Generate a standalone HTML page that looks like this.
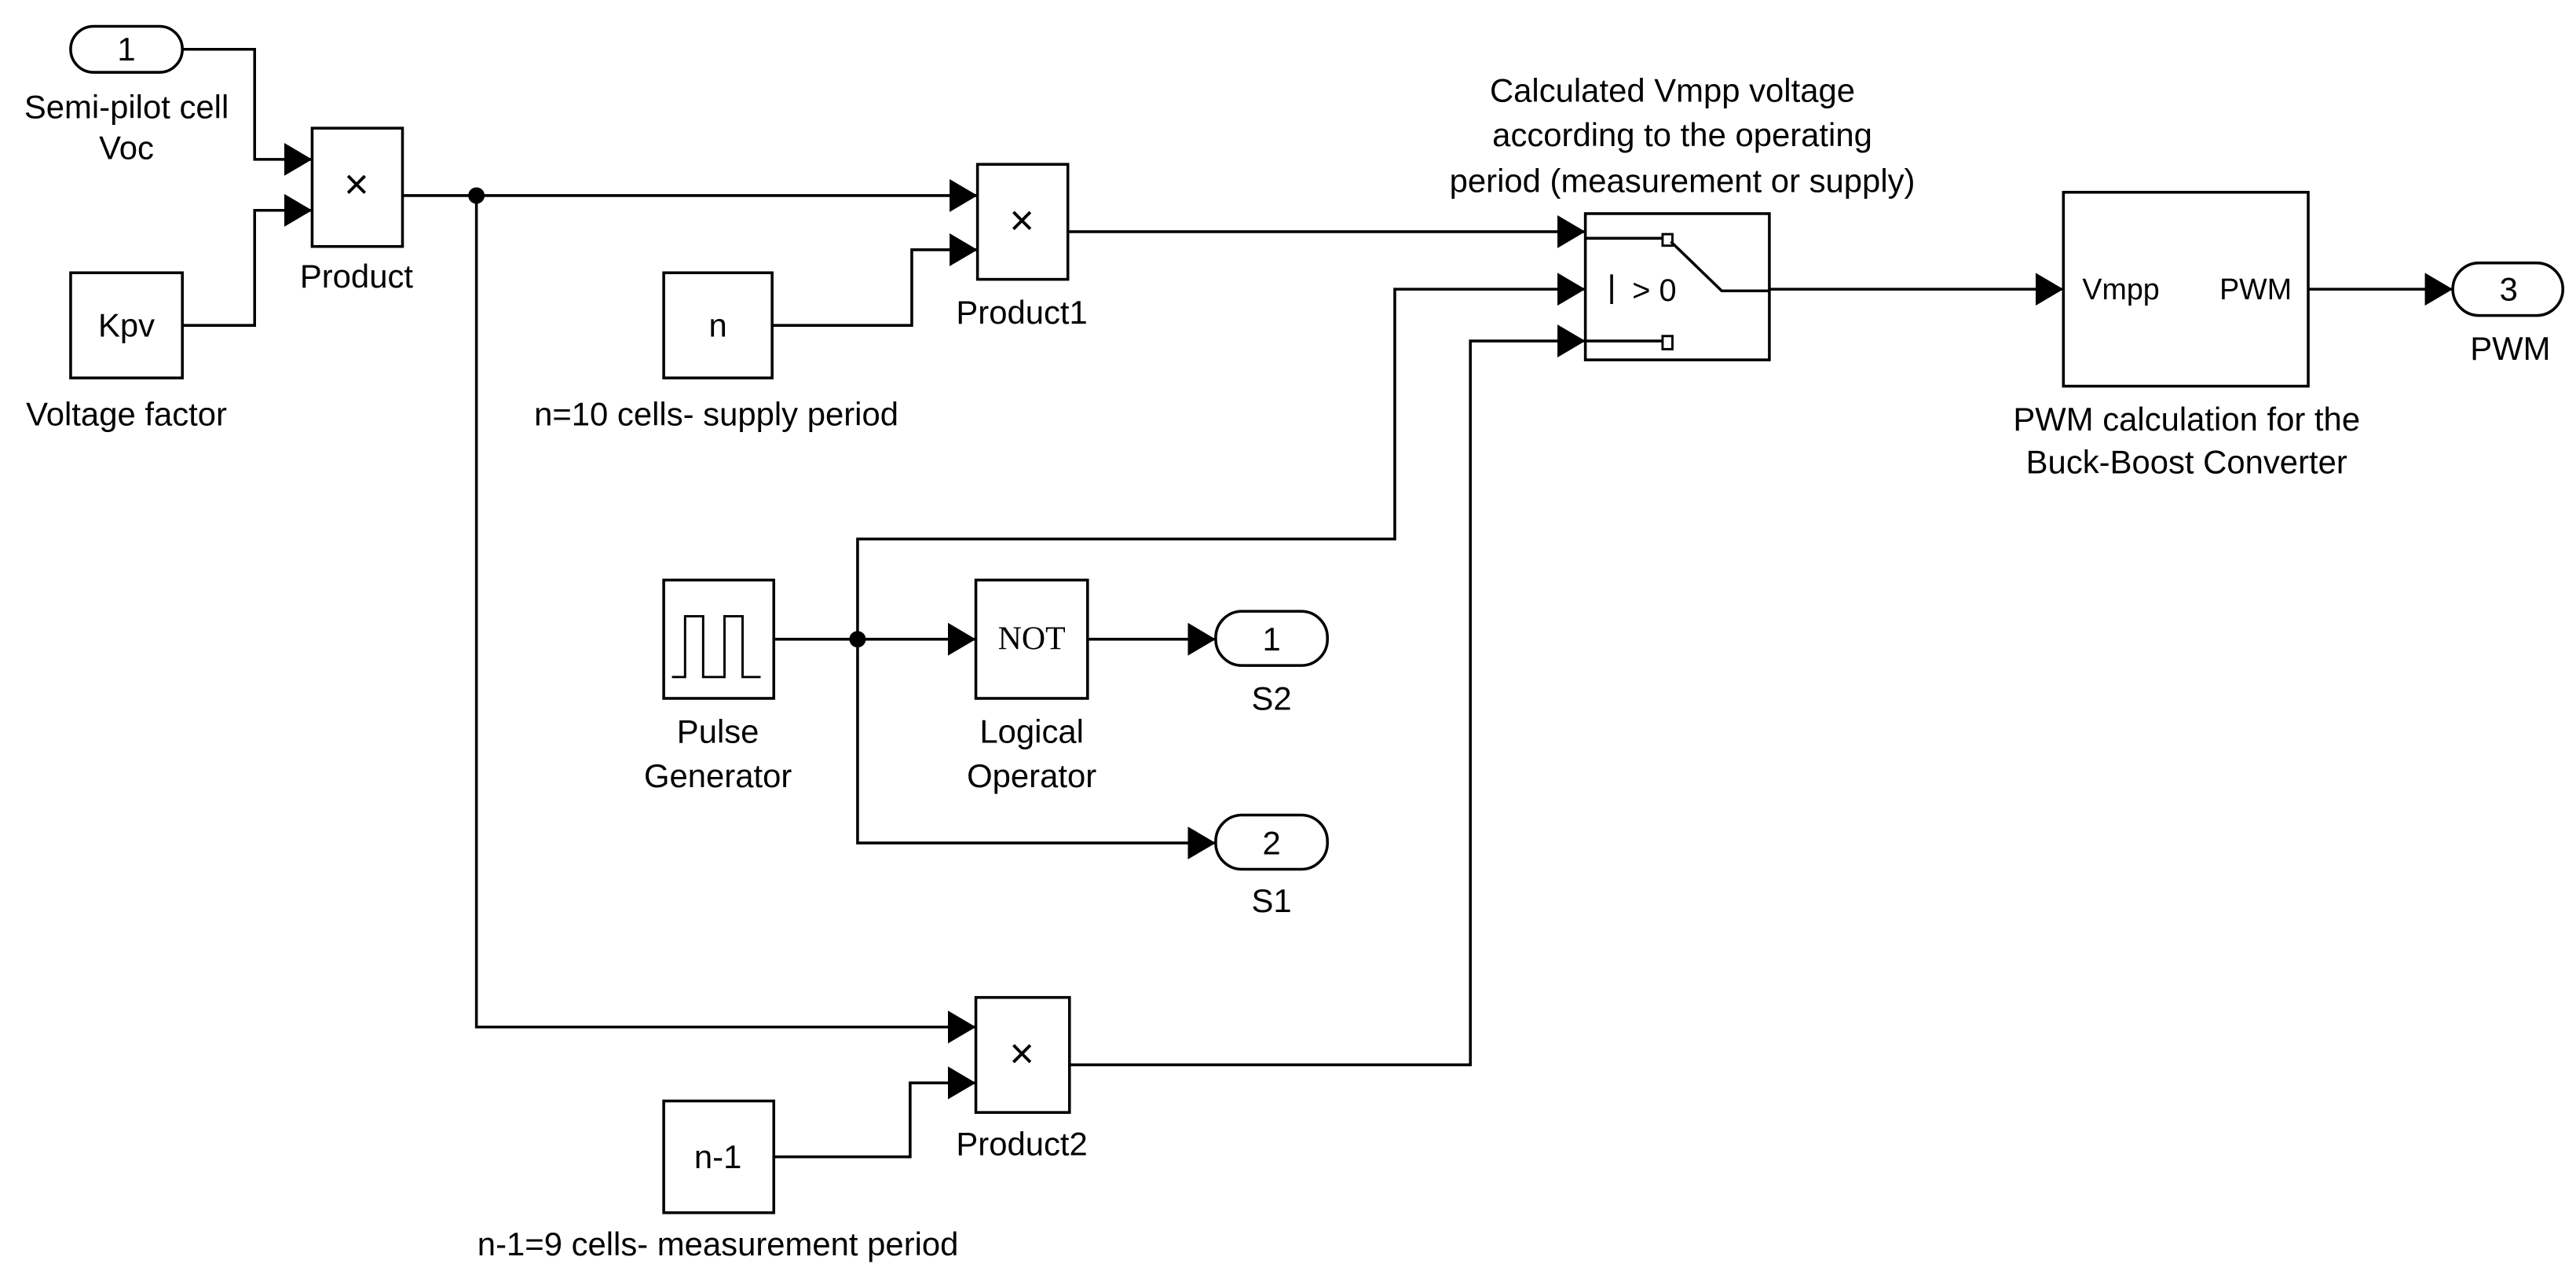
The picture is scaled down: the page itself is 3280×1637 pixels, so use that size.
<!DOCTYPE html>
<html><head><meta charset="utf-8"><style>
html,body{margin:0;padding:0;background:#fff;}
svg{display:block;}
text{font-family:"Liberation Sans",Arial,sans-serif;font-size:20px;fill:#000;text-anchor:middle;dominant-baseline:central;}
</style></head><body>
<svg width="3280" height="1637" viewBox="0 0 1568 782.6" preserveAspectRatio="none" xmlns="http://www.w3.org/2000/svg">
<defs>
<marker id="a" markerWidth="18" markerHeight="20" refX="17" refY="10" orient="auto" markerUnits="userSpaceOnUse">
<path d="M0,0 L17,10 L0,20 Z" fill="#000"/></marker>
</defs>
<g fill="none" stroke="#000" stroke-width="1.7">
<rect x="43" y="16" width="68" height="28" rx="14"/>
<rect x="190" y="78" width="55" height="72"/>
<rect x="43" y="166" width="68" height="64"/>
<rect x="595" y="100" width="55" height="70"/>
<rect x="404" y="166" width="66" height="64"/>
<rect x="965" y="130" width="112" height="89"/>
<rect x="1256" y="117" width="149" height="118"/>
<rect x="1493" y="160" width="67" height="32" rx="16"/>
<rect x="404" y="353" width="67" height="72"/>
<rect x="594" y="353" width="68" height="72"/>
<rect x="740" y="372" width="68" height="33" rx="16"/>
<rect x="740" y="496" width="68" height="33" rx="16"/>
<rect x="594" y="607" width="57" height="70"/>
<rect x="404" y="670" width="67" height="68"/>
<path d="M409,412 H417 V375 H428 V412 H441 V375 H452 V412 H463" stroke-width="1.4"/>
<path d="M965,145 H1012"/>
<rect x="1012" y="142.5" width="6" height="7" stroke-width="1.4"/>
<path d="M1017,147 L1048,177 H1077"/>
<path d="M965,207.5 H1012"/>
<rect x="1012" y="204.5" width="6" height="8" stroke-width="1.4"/>
<path d="M981,167 V185"/>
<path d="M111,30 H155 V97 H190" marker-end="url(#a)"/>
<path d="M111,198 H155 V128 H190" marker-end="url(#a)"/>
<path d="M245,119 H595" marker-end="url(#a)"/>
<path d="M470,198 H555 V152 H595" marker-end="url(#a)"/>
<path d="M650,141 H965" marker-end="url(#a)"/>
<path d="M1077,176 H1256" marker-end="url(#a)"/>
<path d="M1405,176 H1493" marker-end="url(#a)"/>
<path d="M290,119 V625 H594" marker-end="url(#a)"/>
<path d="M471,704 H554 V659 H594" marker-end="url(#a)"/>
<path d="M651,648 H895 V207.5 H965" marker-end="url(#a)"/>
<path d="M471,389 H594" marker-end="url(#a)"/>
<path d="M662,389 H740" marker-end="url(#a)"/>
<path d="M522,389 V513 H740" marker-end="url(#a)"/>
<path d="M522,389 V328 H849 V176 H965" marker-end="url(#a)"/>
</g>
<circle cx="290" cy="119" r="5" fill="#000"/>
<circle cx="522" cy="389" r="5" fill="#000"/>
<text x="77" y="30">1</text>
<text x="77" y="65">Semi-pilot cell</text>
<text x="77" y="90">Voc</text>
<text x="217" y="112" style="font-size:26px">×</text>
<text x="217" y="168">Product</text>
<text x="77" y="198">Kpv</text>
<text x="77" y="252">Voltage factor</text>
<text x="622" y="134" style="font-size:26px">×</text>
<text x="622" y="190">Product1</text>
<text x="437" y="198">n</text>
<text x="436" y="252">n=10 cells- supply period</text>
<text x="1018" y="55">Calculated Vmpp voltage</text>
<text x="1024" y="82">according to the operating</text>
<text x="1024" y="110">period (measurement or supply)</text>
<text x="1007" y="177" style="font-size:19px">&gt; 0</text>
<text x="1291" y="176" style="font-size:18px">Vmpp</text>
<text x="1373" y="176" style="font-size:18px">PWM</text>
<text x="1331" y="255">PWM calculation for the</text>
<text x="1331" y="281">Buck-Boost Converter</text>
<text x="1527" y="176">3</text>
<text x="1528" y="212">PWM</text>
<text x="628" y="389" style="font-family:'Liberation Serif',serif;font-size:20px">NOT</text>
<text x="437" y="445">Pulse</text>
<text x="437" y="472">Generator</text>
<text x="628" y="445">Logical</text>
<text x="628" y="472">Operator</text>
<text x="774" y="389">1</text>
<text x="774" y="425">S2</text>
<text x="774" y="513">2</text>
<text x="774" y="548">S1</text>
<text x="622" y="641" style="font-size:26px">×</text>
<text x="622" y="696">Product2</text>
<text x="437" y="704">n-1</text>
<text x="437" y="757">n-1=9 cells- measurement period</text>
</svg>
</body></html>
